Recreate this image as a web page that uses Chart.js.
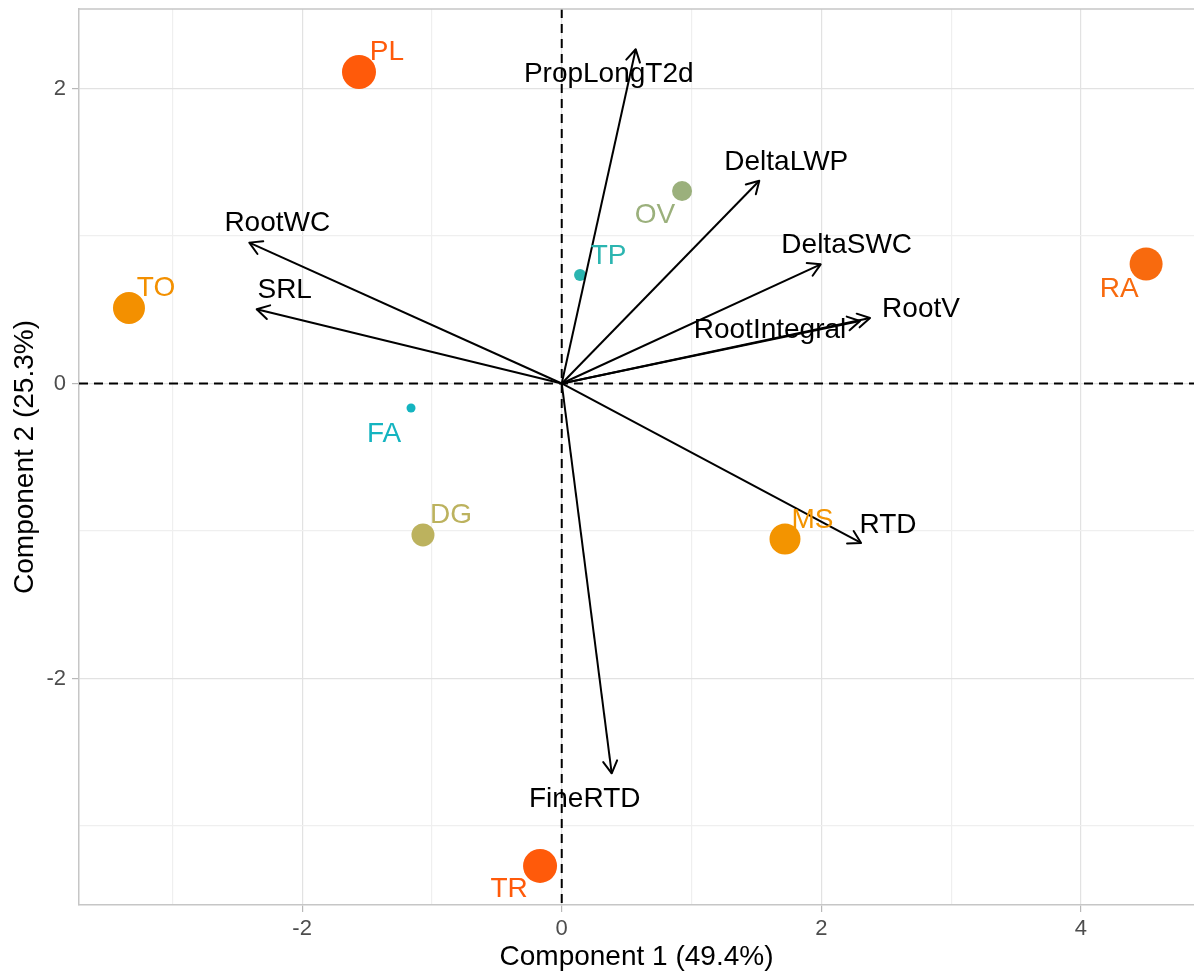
<!DOCTYPE html>
<html>
<head>
<meta charset="utf-8">
<script src="https://cdn.jsdelivr.net/npm/chart.js@4/dist/chart.umd.min.js"></script>
<style>
html,body{margin:0;padding:0;background:#ffffff;}
#wrap{width:1194px;height:974px;position:relative;}
canvas{display:block;}
</style>
</head>
<body>
<div id="wrap"><canvas id="c" width="1194" height="974"></canvas></div>
<script>
// ---------------- DATA ----------------
const sites = ['PL', 'TO', 'TP', 'OV', 'RA', 'FA', 'DG', 'MS', 'TR'];
const siteX = [-1.562, -3.334, 0.141, 0.927, 4.502, -1.161, -1.069, 1.720, -0.167];
const siteY = [2.112, 0.512, 0.736, 1.305, 0.810, -0.166, -1.027, -1.054, -3.271];

const variables = ['PropLongT2d', 'DeltaLWP', 'DeltaSWC', 'RootV', 'RootIntegral', 'RTD', 'FineRTD', 'RootWC', 'SRL'];
const loadX = [0.570, 1.522, 1.995, 2.375, 2.298, 2.306, 0.385, -2.407, -2.350];
const loadY = [2.266, 1.375, 0.808, 0.444, 0.424, -1.081, -2.643, 0.955, 0.503];

const xTicks = [-2, 0, 2, 4];
const xMinorTicks = [-3, -1, 1, 3];
const yTicks = [-2, 0, 2];
const yMinorTicks = [-3, -1, 1];

const xTitle = 'Component 1 (49.4%)';
const yTitle = 'Component 2 (25.3%)';

// ---------------- STYLE / LAYOUT ----------------
const FONT = '"Liberation Sans", Arial, Helvetica, sans-serif';
const siteColors = ['#FF5A0A', '#F39000', '#2BB5B0', '#9BB07C', '#F86A0E', '#14B4C0', '#BCB25E', '#F39400', '#FF5A0A'];
const siteRadii = [17, 16, 6, 10, 16.5, 4.5, 11.5, 15.5, 17];
const siteLabelOffsets = [[28, -22], [27, -21.5], [28.5, -21], [-27, 22], [-27, 23], [-27, 24], [28, -22], [27.5, -21], [-31, 21]];
const varLabelOffsets = [[-27, 23], [27, -21], [26, -21], [51, -11], [-90, 7], [27, -20], [-27, 24], [28, -22], [28, -21]];
const LABEL_SIZE = 28;

const allX = xTicks.concat(xMinorTicks).sort((a, b) => a - b);
const allY = yTicks.concat(yMinorTicks).sort((a, b) => a - b);

const datasets = [];
datasets.push({
  label: 'sites',
  type: 'scatter',
  order: 2,
  data: sites.map((s, i) => ({x: siteX[i], y: siteY[i]})),
  pointRadius: siteRadii,
  pointHoverRadius: siteRadii,
  pointBackgroundColor: siteColors,
  pointBorderWidth: 0,
  pointBorderColor: 'rgba(0,0,0,0)'
});
variables.forEach((v, i) => {
  datasets.push({
    label: v,
    type: 'line',
    order: 1,
    data: [{x: 0, y: 0}, {x: loadX[i], y: loadY[i]}],
    borderColor: '#000000',
    borderWidth: 2,
    pointRadius: 0,
    showLine: true,
    fill: false,
    tension: 0
  });
});

const zeroLines = {
  id: 'zeroLines',
  beforeDatasetsDraw(chart) {
    const {ctx, chartArea: a, scales: {x, y}} = chart;
    ctx.save();
    ctx.beginPath();
    ctx.rect(a.left, a.top, a.right - a.left, a.bottom - a.top);
    ctx.clip();
    ctx.strokeStyle = '#000000';
    ctx.lineWidth = 2;
    ctx.setLineDash([9, 6]);
    const px = x.getPixelForValue(0), py = y.getPixelForValue(0);
    ctx.beginPath();
    ctx.moveTo(px, a.top); ctx.lineTo(px, a.bottom);
    ctx.stroke();
    ctx.beginPath();
    ctx.moveTo(a.left, py); ctx.lineTo(a.right, py);
    ctx.stroke();
    ctx.restore();
    // top panel border
    ctx.save();
    ctx.strokeStyle = '#C6C6C6';
    ctx.lineWidth = 1.5;
    ctx.beginPath();
    ctx.moveTo(a.left, a.top); ctx.lineTo(a.right, a.top);
    ctx.stroke();
    ctx.restore();
  }
};

const arrowsAndLabels = {
  id: 'arrowsAndLabels',
  afterDatasetsDraw(chart) {
    const ctx = chart.ctx;
    const capShift = LABEL_SIZE * 0.716 / 2;
    ctx.save();
    ctx.font = LABEL_SIZE + 'px ' + FONT;
    ctx.textAlign = 'center';
    ctx.textBaseline = 'alphabetic';
    // site labels
    const pm = chart.getDatasetMeta(0);
    sites.forEach((s, i) => {
      const el = pm.data[i];
      ctx.fillStyle = siteColors[i];
      ctx.fillText(s, el.x + siteLabelOffsets[i][0], el.y + siteLabelOffsets[i][1] + capShift);
    });
    // arrowheads
    ctx.strokeStyle = '#000000';
    ctx.lineWidth = 2;
    ctx.lineCap = 'round';
    ctx.lineJoin = 'round';
    variables.forEach((v, i) => {
      const m = chart.getDatasetMeta(i + 1);
      const p0 = m.data[0], p1 = m.data[1];
      const ang = Math.atan2(p1.y - p0.y, p1.x - p0.x);
      const L = 14, spread = Math.PI / 6;
      ctx.beginPath();
      ctx.moveTo(p1.x - L * Math.cos(ang - spread), p1.y - L * Math.sin(ang - spread));
      ctx.lineTo(p1.x, p1.y);
      ctx.lineTo(p1.x - L * Math.cos(ang + spread), p1.y - L * Math.sin(ang + spread));
      ctx.stroke();
    });
    // variable labels
    ctx.fillStyle = '#000000';
    variables.forEach((v, i) => {
      const el = chart.getDatasetMeta(i + 1).data[1];
      ctx.fillText(v, el.x + varLabelOffsets[i][0], el.y + varLabelOffsets[i][1] + capShift);
    });
    ctx.restore();
  }
};

function gridColor(ctx) {
  const v = ctx.tick ? ctx.tick.value : 0;
  return (Math.abs(v) % 2 === 0) ? '#E2E2E2' : '#EFEFEF';
}
function tickMarkColor(ctx) {
  const v = ctx.tick ? ctx.tick.value : 0;
  return (Math.abs(v) % 2 === 0) ? '#B8B8B8' : 'rgba(0,0,0,0)';
}

new Chart(document.getElementById('c'), {
  type: 'scatter',
  data: {datasets},
  plugins: [zeroLines, arrowsAndLabels],
  options: {
    responsive: false,
    animation: false,
    events: [],
    layout: {autoPadding: false, padding: {top: 9, right: 0, left: 0, bottom: 0}},
    plugins: {legend: {display: false}, tooltip: {enabled: false}},
    scales: {
      x: {
        type: 'linear',
        min: -3.719,
        max: 4.871,
        afterBuildTicks(scale) { scale.ticks = allX.map(v => ({value: v})); },
        afterFit(scale) { scale.height = 69; scale.paddingLeft = 0; scale.paddingRight = 0; },
        ticks: {
          autoSkip: false,
          maxRotation: 0,
          padding: 4,
          color: '#4D4D4D',
          font: {family: FONT, size: 22},
          callback: (v) => (Math.abs(v) % 2 === 0 ? String(v) : '')
        },
        grid: {color: gridColor, lineWidth: 1.2, tickLength: 7, tickColor: tickMarkColor, tickWidth: 1.2},
        border: {display: true, color: '#C6C6C6', width: 1.5},
        title: {display: true, text: xTitle, color: '#000000', font: {family: FONT, size: 28}, padding: {top: 0, bottom: 0}}
      },
      y: {
        type: 'linear',
        min: -3.536,
        max: 2.539,
        afterBuildTicks(scale) { scale.ticks = allY.map(v => ({value: v})); },
        afterFit(scale) { scale.width = 79; scale.paddingTop = 0; scale.paddingBottom = 0; },
        ticks: {
          autoSkip: false,
          padding: 6,
          color: '#4D4D4D',
          font: {family: FONT, size: 22},
          callback: (v) => (Math.abs(v) % 2 === 0 ? String(v) : '')
        },
        grid: {color: gridColor, lineWidth: 1.2, tickLength: 7, tickColor: tickMarkColor, tickWidth: 1.2},
        border: {display: true, color: '#C6C6C6', width: 1.5},
        title: {display: true, text: yTitle, color: '#000000', font: {family: FONT, size: 28}, padding: {top: 8, bottom: 0}}
      }
    }
  }
});
</script>
</body>
</html>
